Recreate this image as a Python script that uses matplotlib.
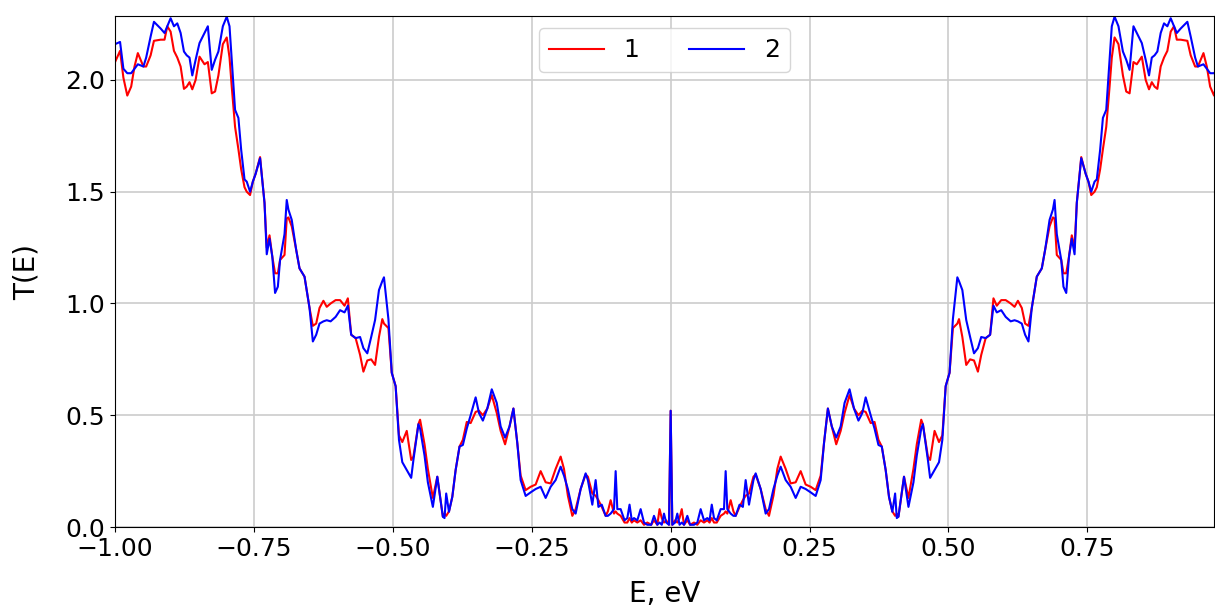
import numpy as np
import matplotlib
matplotlib.use('Agg')
import matplotlib.pyplot as plt

# E >= 0 half of the spectrum; the curves are symmetric in E
e_half = [0.000, 0.003, 0.008, 0.012, 0.016, 0.020, 0.024, 0.030, 0.035, 0.042,
          0.048, 0.054, 0.060, 0.066, 0.070, 0.074, 0.078, 0.083, 0.090, 0.096,
          0.099, 0.102, 0.108, 0.113, 0.117, 0.124, 0.130, 0.135, 0.141, 0.149,
          0.153, 0.162, 0.171, 0.177, 0.185, 0.192, 0.198, 0.207, 0.216, 0.225,
          0.234, 0.243, 0.252, 0.261, 0.270, 0.276, 0.283, 0.290, 0.298, 0.306,
          0.313, 0.322, 0.330, 0.338, 0.345, 0.351, 0.360, 0.367, 0.374, 0.380,
          0.387, 0.393, 0.399, 0.404, 0.407, 0.410, 0.420, 0.428, 0.437, 0.443,
          0.451, 0.454, 0.463, 0.467, 0.475, 0.483, 0.489, 0.495, 0.502, 0.508,
          0.516, 0.519, 0.525, 0.532, 0.539, 0.546, 0.553, 0.559, 0.567, 0.575,
          0.581, 0.587, 0.595, 0.603, 0.612, 0.619, 0.625, 0.632, 0.638, 0.644,
          0.650, 0.659, 0.668, 0.674, 0.682, 0.688, 0.691, 0.695, 0.703, 0.707,
          0.712, 0.717, 0.722, 0.727, 0.731, 0.739, 0.747, 0.752, 0.757, 0.763,
          0.767, 0.773, 0.778, 0.784, 0.790, 0.794, 0.799, 0.806, 0.814, 0.820,
          0.826, 0.833, 0.839, 0.848, 0.855, 0.861, 0.866, 0.871, 0.876, 0.882,
          0.888, 0.894, 0.900, 0.906, 0.911, 0.918, 0.930, 0.936, 0.944, 0.949,
          0.959, 0.965, 0.971, 0.978, 0.985, 0.991, 1.000]

t1_half = [0.52, 0.01, 0.03, 0.02, 0.04, 0.08, 0.01, 0.03, 0.01, 0.02,
           0.01, 0.03, 0.02, 0.03, 0.02, 0.04, 0.02, 0.02, 0.05, 0.06,
           0.07, 0.06, 0.12, 0.07, 0.05, 0.09, 0.12, 0.14, 0.15, 0.225,
           0.235, 0.17, 0.08, 0.05, 0.14, 0.26, 0.315, 0.26, 0.195, 0.20,
           0.25, 0.19, 0.18, 0.165, 0.23, 0.375, 0.53, 0.45, 0.37, 0.43,
           0.51, 0.59, 0.53, 0.50, 0.52, 0.515, 0.465, 0.47, 0.39, 0.36,
           0.255, 0.135, 0.07, 0.05, 0.06, 0.046, 0.225, 0.13, 0.26, 0.37,
           0.48, 0.46, 0.315, 0.30, 0.43, 0.38, 0.41, 0.63, 0.69, 0.89,
           0.91, 0.93, 0.85, 0.725, 0.75, 0.745, 0.695, 0.77, 0.845, 0.86,
           1.023, 0.99, 1.015, 1.015, 1.00, 0.985, 1.012, 0.98, 0.91, 0.90,
           0.98, 1.12, 1.157, 1.24, 1.345, 1.385, 1.38, 1.217, 1.195, 1.135,
           1.135, 1.21, 1.305, 1.25, 1.45, 1.655, 1.58, 1.545, 1.485, 1.50,
           1.52, 1.60, 1.69, 1.79, 1.97, 2.10, 2.19, 2.16, 2.02, 1.948,
           1.94, 2.08, 2.07, 2.104, 2.00, 1.958, 1.99, 1.97, 1.96, 2.06,
           2.10, 2.13, 2.216, 2.24, 2.18, 2.18, 2.175, 2.11, 2.06, 2.06,
           2.12, 2.06, 1.97, 1.93, 2.01, 2.13, 2.08]

t2_half = [0.52, 0.01, 0.02, 0.06, 0.01, 0.02, 0.01, 0.05, 0.01, 0.01,
           0.02, 0.08, 0.03, 0.04, 0.03, 0.10, 0.04, 0.03, 0.08, 0.08,
           0.25, 0.08, 0.06, 0.05, 0.05, 0.10, 0.09, 0.21, 0.10, 0.21,
           0.24, 0.17, 0.06, 0.08, 0.17, 0.23, 0.27, 0.21, 0.18, 0.13,
           0.18, 0.17, 0.155, 0.139, 0.21, 0.375, 0.53, 0.45, 0.40, 0.45,
           0.555, 0.616, 0.53, 0.476, 0.51, 0.58, 0.50, 0.44, 0.367, 0.36,
           0.255, 0.135, 0.068, 0.15, 0.04, 0.046, 0.225, 0.09, 0.20, 0.32,
           0.44, 0.46, 0.30, 0.22, 0.255, 0.29, 0.39, 0.63, 0.69, 0.93,
           1.117, 1.10, 1.06, 0.926, 0.85, 0.777, 0.80, 0.85, 0.845, 0.86,
           0.99, 0.96, 0.97, 0.94, 0.92, 0.925, 0.92, 0.91, 0.86, 0.83,
           0.98, 1.12, 1.157, 1.24, 1.374, 1.42, 1.463, 1.31, 1.195, 1.075,
           1.047, 1.21, 1.29, 1.22, 1.45, 1.65, 1.58, 1.545, 1.50, 1.545,
           1.555, 1.687, 1.83, 1.866, 2.09, 2.24, 2.283, 2.24, 2.127, 2.09,
           2.045, 2.24, 2.21, 2.165, 2.09, 2.02, 2.10, 2.11, 2.127, 2.21,
           2.253, 2.24, 2.276, 2.24, 2.21, 2.23, 2.26, 2.194, 2.10, 2.06,
           2.07, 2.05, 2.03, 2.03, 2.05, 2.17, 2.16]

e_half = np.array(e_half)
E = np.concatenate([-e_half[::-1], e_half[1:]])
T1 = np.concatenate([np.array(t1_half)[::-1], np.array(t1_half)[1:]])
T2 = np.concatenate([np.array(t2_half)[::-1], np.array(t2_half)[1:]])

plt.rcParams['font.size'] = 18
fig = plt.figure(figsize=(12.15, 6.08), dpi=100)
ax = fig.add_axes([0.0947, 0.1332, 0.9045, 0.8405])
ax.plot(E, T1, color='red', lw=1.5, label='1')
ax.plot(E, T2, color='blue', lw=1.5, label='2')
ax.grid(True, color='#cccccc', lw=1.2)
ax.set_xlim(-1.0, 0.978)
ax.set_ylim(0, 2.286)
ax.set_xticks([-1.0, -0.75, -0.5, -0.25, 0.0, 0.25, 0.5, 0.75])
ax.set_yticks([0.0, 0.5, 1.0, 1.5, 2.0])
ax.set_xlabel('E, eV', fontsize=20, labelpad=14)
ax.set_ylabel('T(E)', fontsize=20, labelpad=18)
ax.legend(loc='upper center', ncol=2, fontsize=18, handlelength=2.2)
fig.savefig('out.png', dpi=100)
